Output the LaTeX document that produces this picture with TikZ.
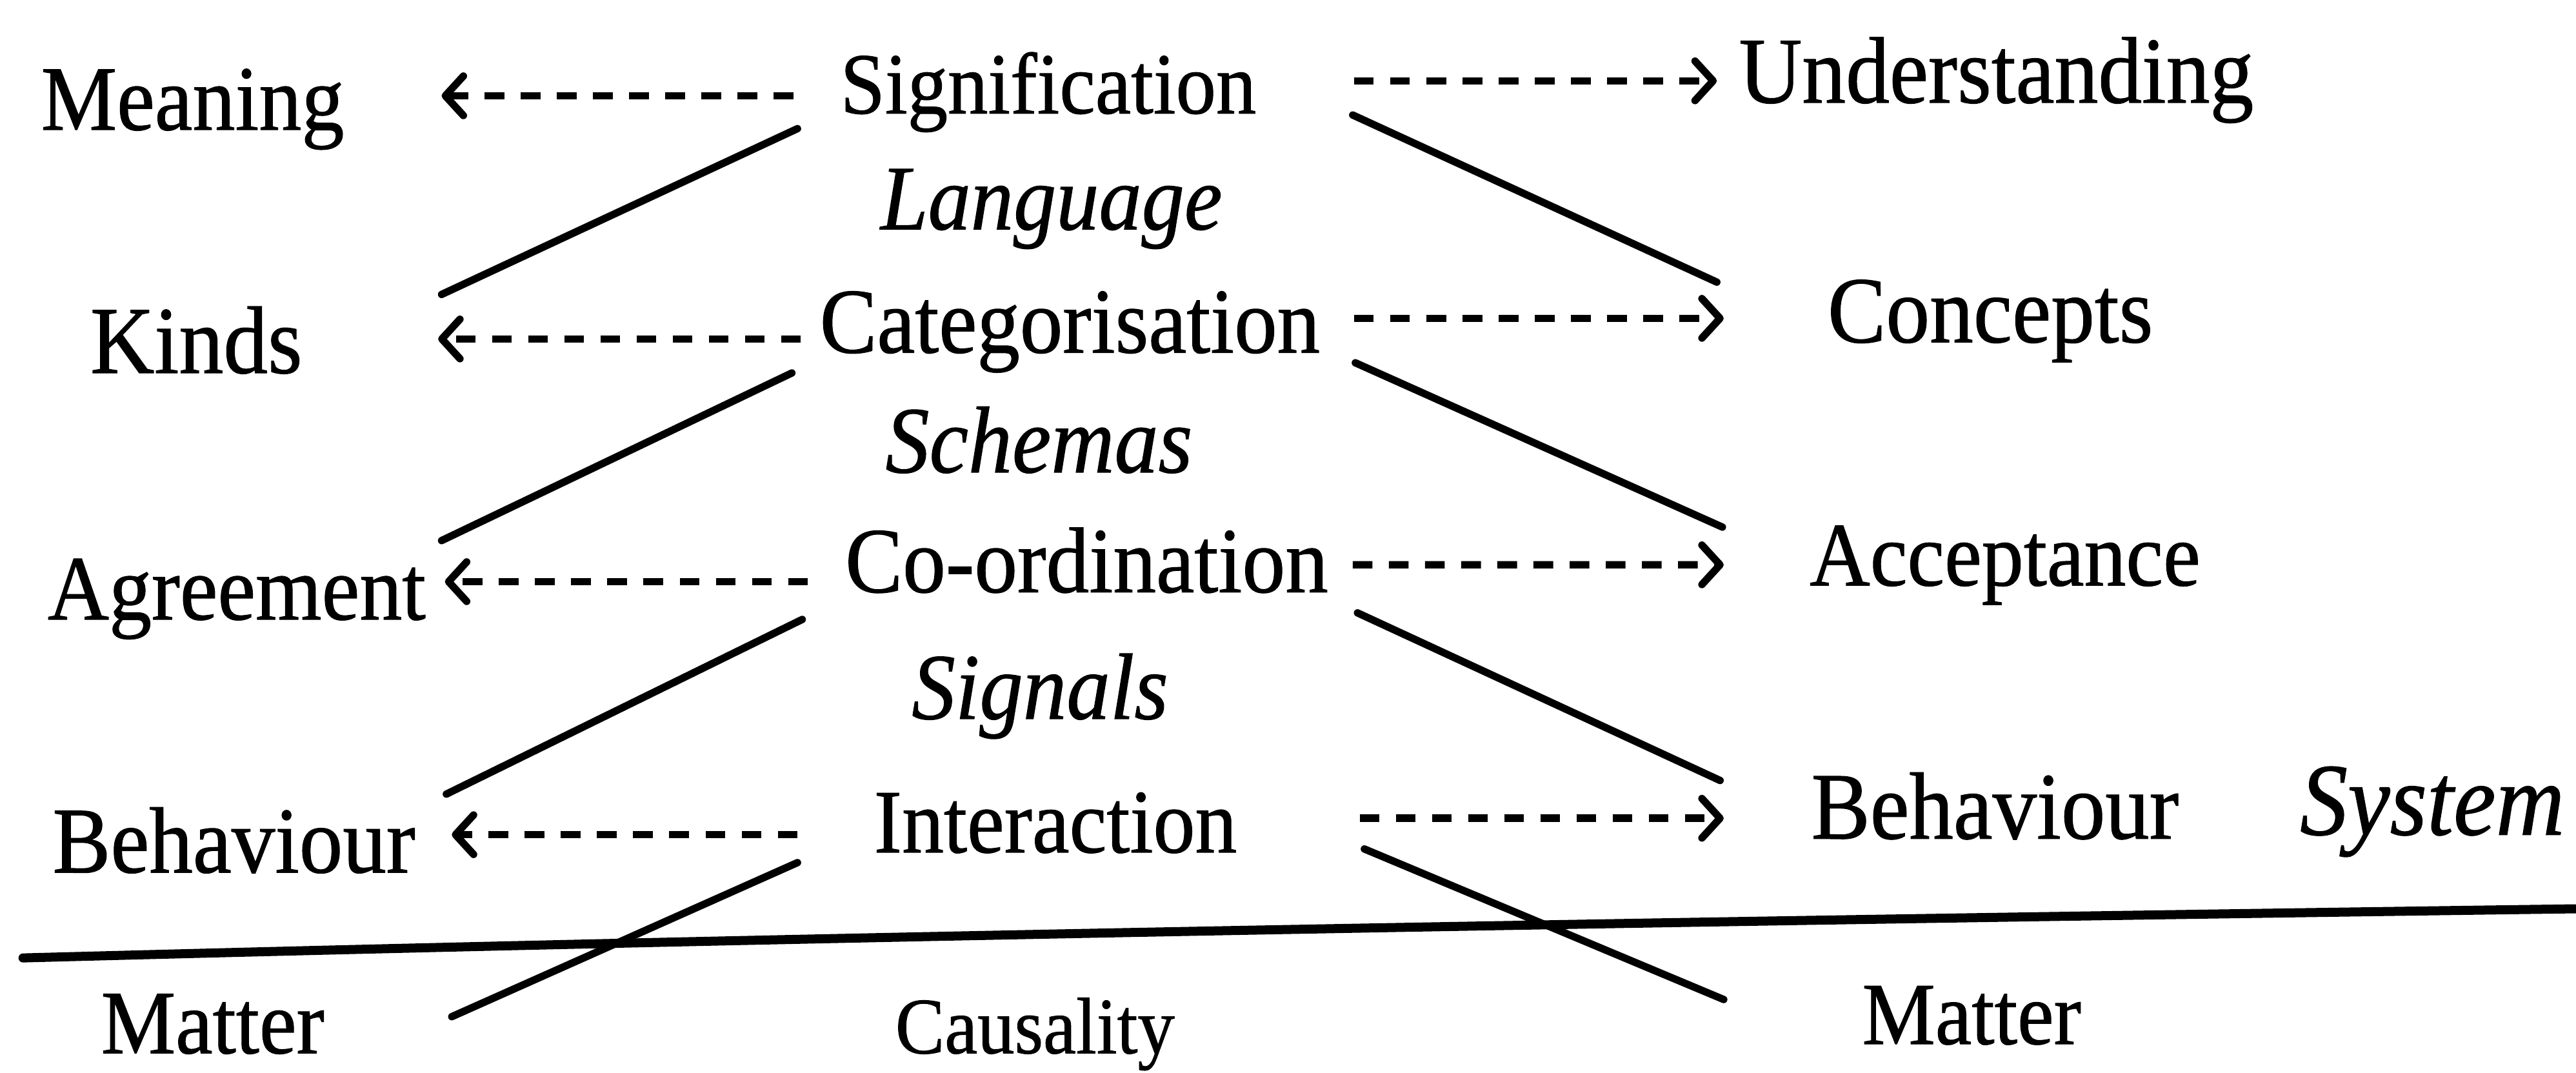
\documentclass[tikz,border=0pt]{standalone}
\usepackage{fontspec}
\setmainfont{Liberation Serif}[FakeBold=0.8]
\usetikzlibrary{arrows.meta}
% font size in bp, and a slightly taller letter shape
\newcommand{\fsz}[1]{\fontsize{#1bp}{#1bp}\selectfont}
\newcommand{\tall}[1]{\scalebox{1}[1.08]{#1}}

\begin{document}
\begin{tikzpicture}[x=1bp,y=-1bp,
  lbl/.style={inner sep=0pt, outer sep=0pt, anchor=base west},
  dasharrow/.style={line width=4.5bp, dash pattern=on 12bp off 10bp,
    -{Straight Barb[length=11bp,width=24bp,round]}},
  link/.style={line width=4.5bp, line cap=round},
  rule/.style={line width=5.5bp, line cap=round}]

\useasboundingbox[fill=white] (0,0) rectangle (1568,653);

% left column
\node[lbl, font=\fsz{51.9}] (meaning) at (25,79)   {\tall{Meaning}};
\node[lbl, font=\fsz{54}]   (kinds)   at (55,227)  {\tall{Kinds}};
\node[lbl, font=\fsz{51.8}] (agree)   at (29,377)  {\tall{Agreement}};
\node[lbl, font=\fsz{53}]   (behL)    at (32,531)  {\tall{Behaviour}};
\node[lbl, font=\fsz{51}]   (matL)    at (61.5,641) {\tall{Matter}};

% middle column
\node[lbl, font=\fsz{49}]   (sig)     at (511.5,69)  {\tall{Signification}};
\node[lbl, font=\fsz{52}\itshape]   (lang)  at (536,139.6) {\tall{Language}};
\node[lbl, font=\fsz{52.2}] (cat)     at (499,214.6) {\tall{Categorisation}};
\node[lbl, font=\fsz{53.4}\itshape] (schem) at (539,287.5) {\tall{Schemas}};
\node[lbl, font=\fsz{52.4}] (coord)   at (514.5,360.4) {\tall{Co-ordination}};
\node[lbl, font=\fsz{53}\itshape]   (signl) at (555,437.5) {\tall{Signals}};
\node[lbl, font=\fsz{51}]   (inter)   at (532,518.75) {\tall{Interaction}};
\node[lbl, font=\fsz{45}]   (caus)    at (545,641)   {\tall{Causality}};

% right column
\node[lbl, font=\fsz{53.2}] (und)     at (1058.5,62.5) {\tall{Understanding}};
\node[lbl, font=\fsz{53.2}] (conc)    at (1112.5,208.3) {\tall{Concepts}};
\node[lbl, font=\fsz{51}]   (accept)  at (1101.5,356.3) {\tall{Acceptance}};
\node[lbl, font=\fsz{53.7}] (behR)    at (1102.5,510.4) {\tall{Behaviour}};
\node[lbl, font=\fsz{58}\itshape]   (sys)   at (1400,508) {\tall{System}};
\node[lbl, font=\fsz{50}]   (matR)    at (1133.5,635.4) {\tall{Matter}};

% dashed arrows to the left
\draw[dasharrow] ([shift={(-28.5,-10.7)}]sig.base west)   -- ([shift={(243.8,-20.7)}]meaning.base west);
\draw[dasharrow] ([shift={(-11.5,-8.3)}]cat.base west)    -- ([shift={(211.7,-20.7)}]kinds.base west);
\draw[dasharrow] ([shift={(-22.8,-6.4)}]coord.base west)  -- ([shift={(241.8,-23)}]agree.base west);
\draw[dasharrow] ([shift={(-46.6,-10.75)}]inter.base west) -- ([shift={(243,-23)}]behL.base west);

% dashed arrows to the right
\draw[dasharrow] ([shift={(312.7,-19.8)}]sig.base west)   -- ([shift={(-13.5,-13.3)}]und.base west);
\draw[dasharrow] ([shift={(325.2,-20.85)}]cat.base west)  -- ([shift={(-63.3,-14.55)}]conc.base west);
\draw[dasharrow] ([shift={(308.9,-16.65)}]coord.base west) -- ([shift={(-52.3,-12.55)}]accept.base west);
\draw[dasharrow] ([shift={(295.6,-20.75)}]inter.base west) -- ([shift={(-53.3,-12.4)}]behR.base west);

% solid links down to the left
\draw[link] ([shift={(-26.1,9.3)}]sig.base west)    -- ([shift={(213.8,-47.8)}]kinds.base west);
\draw[link] ([shift={(-17,12.4)}]cat.base west)     -- ([shift={(239.8,-48)}]agree.base west);
\draw[link] ([shift={(-26.2,16.6)}]coord.base west) -- ([shift={(239.7,-47.7)}]behL.base west);
\draw[link] ([shift={(-46.6,6.25)}]inter.base west) -- ([shift={(213.5,-22.25)}]matL.base west);

% solid links down to the right
\draw[link] ([shift={(311.9,1)}]sig.base west)      -- ([shift={(-67.5,-36.6)}]conc.base west);
\draw[link] ([shift={(326,6.2)}]cat.base west)      -- ([shift={(-53.1,-35.5)}]accept.base west);
\draw[link] ([shift={(311.8,12.6)}]coord.base west) -- ([shift={(-55.5,-35.4)}]behR.base west);
\draw[link] ([shift={(298.5,-2.05)}]inter.base west) -- ([shift={(-84.3,-27.1)}]matR.base west);

% the system boundary
\draw[rule] (14,583) .. controls (500,570) and (1000,561) .. (1575,553);
\end{tikzpicture}
\end{document}
